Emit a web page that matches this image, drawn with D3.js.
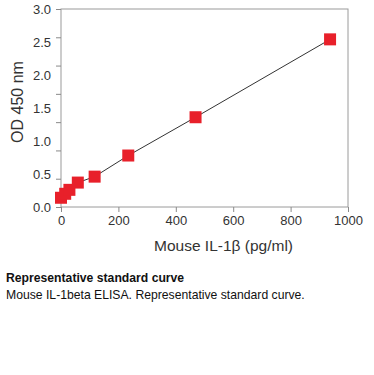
<!DOCTYPE html>
<html>
<head>
<meta charset="utf-8">
<script src="https://cdn.jsdelivr.net/npm/d3@7"></script>
<style>
  body { margin: 0; background: #fff; font-family: "Liberation Sans", Arial, sans-serif; }
  .cap { position: absolute; left: 6px; font-size: 12.2px; color: #111; }
</style>
</head>
<body>
<div id="chart"></div>
<div class="cap" style="top:271px;font-weight:bold;">Representative standard curve</div>
<div class="cap" style="top:288px;">Mouse IL-1beta ELISA. Representative standard curve.</div>
<script>
// standard concentrations (pg/ml) and OD readings
var conc = [0, 14.6, 29.3, 58.6, 117.2, 234.4, 468.8, 937.5];
var od = [0.14, 0.20, 0.26, 0.37, 0.46, 0.78, 1.36, 2.54];
var xTicks = [0, 200, 400, 600, 800, 1000];
var yTicks = [0, 0.5, 1.0, 1.5, 2.0, 2.5, 3.0];
var yMarks = [0, 0.5, 1.0, 1.5, 2.0, 2.5, 3.0, 3.5];

var margin = {top: 9, right: 26, bottom: 168, left: 61},
    width = 374 - margin.left - margin.right,
    height = 375 - margin.top - margin.bottom;

var svg = d3.select("#chart")
  .append("svg")
  .attr("width", 374)
  .attr("height", 375);
var chart = svg.append("g")
  .attr("transform", "translate(" + margin.left + "," + margin.top + ")");

var xScale = d3.scaleLinear().domain([0, 1000]).range([0, width]);
var yScale = d3.scaleLinear().domain([0, 3]).range([height, 0]);
// the tick marks in the original are spaced a bit tighter than the labels
var yMarkScale = d3.scaleLinear().domain([0, 3.5]).range([height, 0]);

// frame
chart.append("rect")
  .attr("x", 0).attr("y", 0)
  .attr("width", width).attr("height", height)
  .style("fill", "none")
  .style("stroke", "#9a9a9a");

// x axis
var xAxis = chart.append("g")
  .attr("transform", "translate(0," + height + ")")
  .call(d3.axisBottom(xScale).tickValues(xTicks).tickFormat(d3.format("d")).tickSize(5).tickPadding(4));

// y labels
var yAxis = chart.append("g")
  .call(d3.axisLeft(yScale).tickValues(yTicks).tickFormat(d3.format(".1f")).tickSize(0).tickPadding(10));
// y tick marks
var yMarkAxis = chart.append("g")
  .call(d3.axisLeft(yMarkScale).tickValues(yMarks).tickFormat("").tickSize(5));

[xAxis, yAxis, yMarkAxis].forEach(function(a) {
  a.select(".domain").remove();
  a.selectAll("line").attr("stroke", "#8a8a8a");
  a.selectAll("text")
    .attr("fill", "#333")
    .style("font-size", "13px")
    .style("font-family", "Liberation Sans, Arial, sans-serif");
});

// axis titles
chart.append("text")
  .attr("x", width / 2 + 19)
  .attr("y", height + 44)
  .attr("text-anchor", "middle")
  .style("font-size", "15.5px")
  .attr("fill", "#333")
  .text("Mouse IL-1\u03b2 (pg/ml)");

chart.append("text")
  .attr("transform", "rotate(-90)")
  .attr("x", -102 + margin.top)
  .attr("y", -margin.left + 23)
  .attr("text-anchor", "middle")
  .style("font-size", "16px")
  .attr("fill", "#333")
  .text("OD 450 nm");

var pts = conc.map(function(c, i) { return {x: c, y: od[i]}; });

// line
chart.append("path")
  .datum(pts)
  .attr("d", d3.line().x(function(d) { return xScale(d.x); }).y(function(d) { return yScale(d.y); }))
  .style("fill", "none")
  .style("stroke", "#333")
  .style("stroke-width", 1);

// squares
chart.selectAll("rect.pt")
  .data(pts)
  .enter()
  .append("rect")
  .attr("class", "pt")
  .attr("x", function(d) { return xScale(d.x) - 6; })
  .attr("y", function(d) { return yScale(d.y) - 6; })
  .attr("width", 12)
  .attr("height", 12)
  .style("fill", "#e8202a");
</script>
</body>
</html>
